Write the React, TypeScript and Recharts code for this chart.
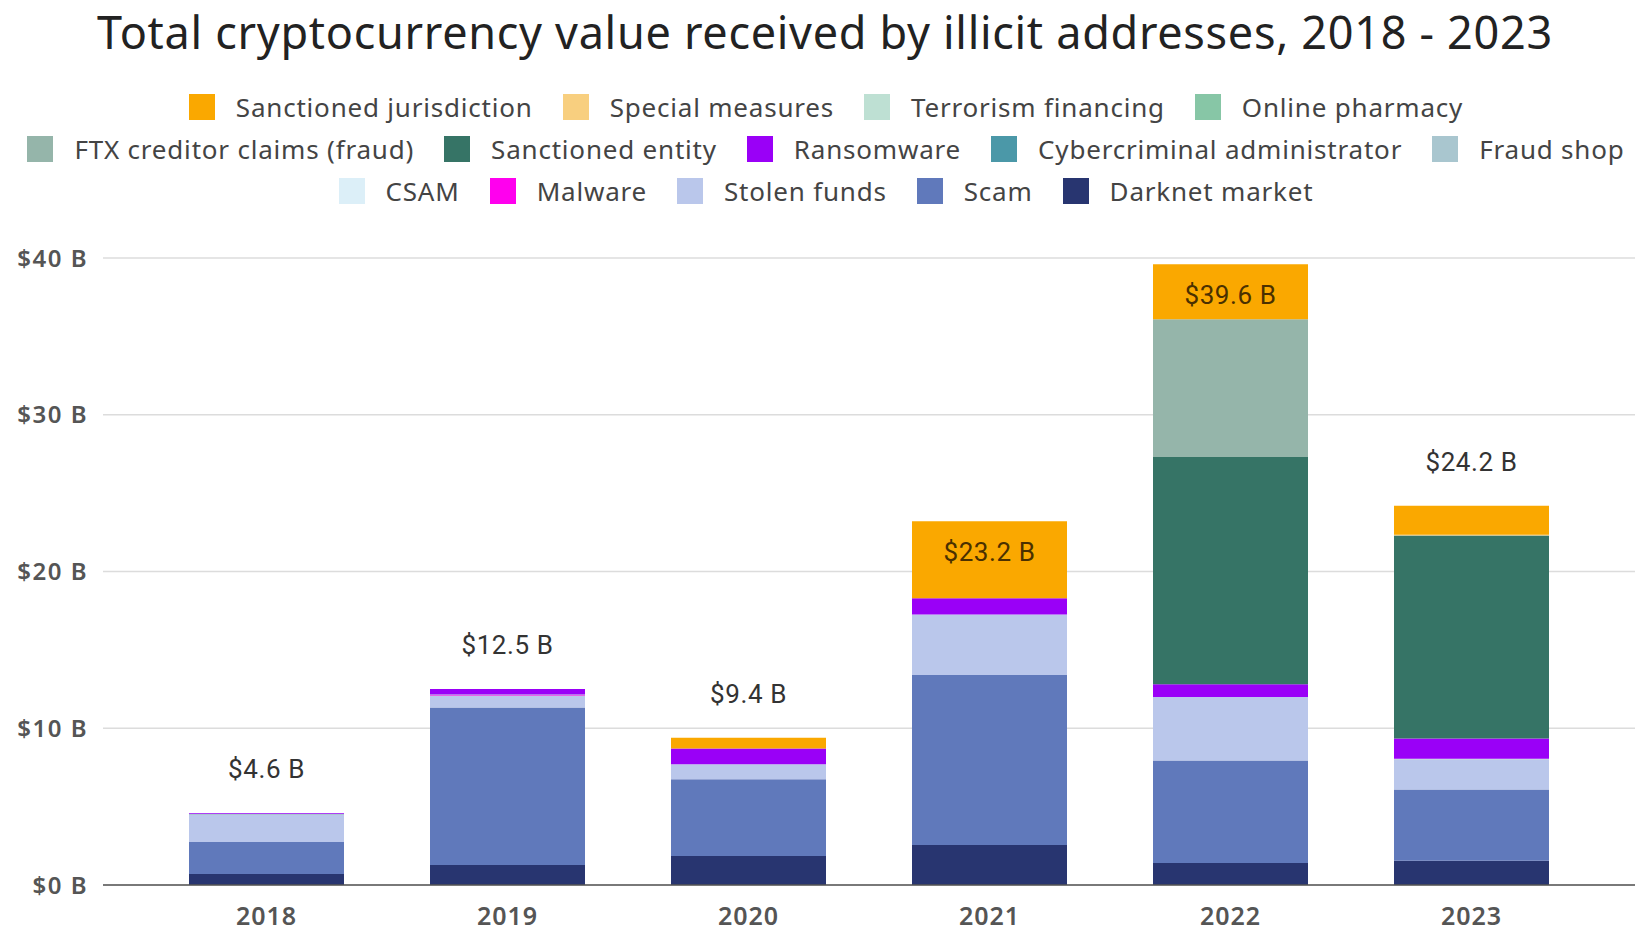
import React from "react";
import { BarChart, Bar, XAxis, YAxis, CartesianGrid, LabelList } from "recharts";

// years on the x axis
const years = ["2018", "2019", "2020", "2021", "2022", "2023"];

// values in $ billions (bottom of the stack first)
const darknetMarket = [0.7, 1.28, 1.85, 2.55, 1.4, 1.55];
const scam = [2.05, 10.05, 4.9, 10.85, 6.55, 4.55];
const stolenFunds = [1.72, 0.72, 0.96, 3.85, 4.05, 1.9];
const malware = [0, 0.05, 0, 0, 0, 0];
const csam = [0, 0, 0, 0, 0, 0];
const fraudShop = [0.08, 0.05, 0, 0, 0, 0.05];
const cybercriminalAdmin = [0, 0, 0, 0, 0, 0];
const ransomware = [0.05, 0.35, 1.0, 1.05, 0.8, 1.3];
const sanctionedEntity = [0, 0, 0, 0, 14.5, 12.95];
const ftxClaims = [0, 0, 0, 0, 8.8, 0];
const onlinePharmacy = [0, 0, 0, 0, 0, 0];
const terrorismFinancing = [0, 0, 0, 0, 0, 0];
const specialMeasures = [0, 0, 0, 0, 0, 0.05];
const sanctionedJurisdiction = [0, 0, 0.69, 4.9, 3.5, 1.85];

// totals as printed above each bar
const totals = [4.6, 12.5, 9.4, 23.2, 39.6, 24.2];

const yTicks = [0, 10, 20, 30, 40];

// stack order, bottom to top
const series = [
  { key: "darknet", name: "Darknet market", color: "#283570", values: darknetMarket },
  { key: "scam", name: "Scam", color: "#6079BB", values: scam },
  { key: "stolen", name: "Stolen funds", color: "#BAC7EB", values: stolenFunds },
  { key: "malware", name: "Malware", color: "#FF00EE", values: malware },
  { key: "csam", name: "CSAM", color: "#DCEFF8", values: csam },
  { key: "fraudShop", name: "Fraud shop", color: "#A9C6CF", values: fraudShop },
  { key: "cyberAdmin", name: "Cybercriminal administrator", color: "#4B98A8", values: cybercriminalAdmin },
  { key: "ransomware", name: "Ransomware", color: "#9A00F7", values: ransomware },
  { key: "sanctionedEntity", name: "Sanctioned entity", color: "#367466", values: sanctionedEntity },
  { key: "ftx", name: "FTX creditor claims (fraud)", color: "#95B5AA", values: ftxClaims },
  { key: "pharmacy", name: "Online pharmacy", color: "#87C6A6", values: onlinePharmacy },
  { key: "terrorism", name: "Terrorism financing", color: "#BEE0D3", values: terrorismFinancing },
  { key: "special", name: "Special measures", color: "#F8CF7F", values: specialMeasures },
  { key: "jurisdiction", name: "Sanctioned jurisdiction", color: "#FAA800", values: sanctionedJurisdiction },
];

// legend lists top of stack first, in three rows
const legendRowSizes = [4, 5, 5];

const data = years.map((year, i) => {
  const row: Record<string, any> = { year, total: totals[i] };
  series.forEach((s) => {
    row[s.key] = s.values[i];
  });
  return row;
});

const FONT = "'Noto Sans', sans-serif";

// drawn from the bottom segment (never zero): its height gives px per $B,
// which places the total at the top of the stack
const TotalLabel = (props: any) => {
  const { x, y, width, height, index } = props;
  const pxPerUnit = height / darknetMarket[index];
  const top = y + height - totals[index] * pxPerUnit;
  const inside = sanctionedJurisdiction[index] >= 3;
  const cy = inside ? top + 31 : top - 44;
  return (
    <text
      x={x + width / 2}
      y={cy}
      textAnchor="middle"
      dominantBaseline="central"
      fontFamily="Roboto, sans-serif"
      fontSize={26}
      letterSpacing={0.6}
      fill={inside ? "#4a3000" : "#333"}
    >
      {`$${totals[index].toFixed(1)} B`}
    </text>
  );
};

const Legend = () => {
  const items = [...series].reverse();
  const rows: typeof items[] = [];
  let start = 0;
  legendRowSizes.forEach((n) => {
    rows.push(items.slice(start, start + n));
    start += n;
  });
  return (
    <div style={{ position: "absolute", top: 86, left: 0, width: 1652 }}>
      {rows.map((row, r) => (
        <div
          key={r}
          style={{ display: "flex", justifyContent: "center", height: 42, alignItems: "center" }}
        >
          {row.map((s) => (
            <div key={s.key} style={{ display: "flex", alignItems: "center", margin: "0 15px" }}>
              <div style={{ width: 26, height: 26, background: s.color, marginRight: 21 }} />
              <span style={{ fontSize: 26, letterSpacing: 0.8, color: "#444", fontFamily: FONT }}>
                {s.name}
              </span>
            </div>
          ))}
        </div>
      ))}
    </div>
  );
}

export default function App() {
  return (
    <div
      style={{
        position: "absolute",
        left: 0,
        top: 0,
        width: 1641,
        height: 931,
        background: "#fff",
        fontFamily: FONT,
        overflow: "hidden",
      }}
    >
      <div
        style={{
          position: "absolute",
          top: 1,
          left: 0,
          width: 1650,
          textAlign: "center",
          fontSize: 45,
          letterSpacing: 0.7,
          color: "#222",
          whiteSpace: "nowrap",
        }}
      >
        Total cryptocurrency value received by illicit addresses, 2018 - 2023
      </div>
      <Legend />
      <div style={{ position: "absolute", left: 0, top: 0 }}>
        <BarChart
          width={1641}
          height={931}
          data={data}
          margin={{ top: 258, right: 6, bottom: 6, left: 8 }}
        >
          <CartesianGrid vertical={false} stroke="#dcdcdc" strokeWidth={1.5} />
          <XAxis
            dataKey="year"
            height={40}
            padding={{ left: 43, right: 43 }}
            tickLine={false}
            tickMargin={16}
            axisLine={{ stroke: "#555", strokeWidth: 1.5 }}
            tick={{ fontSize: 25, fill: "#555", fontWeight: 600, fontFamily: FONT, letterSpacing: 1 }}
          />
          <YAxis
            width={95}
            domain={[0, 40]}
            ticks={yTicks}
            tickFormatter={(v) => `$${v} B`}
            axisLine={false}
            tickLine={false}
            tickMargin={9}
            tick={{ fontSize: 24, fill: "#555", fontWeight: 600, fontFamily: FONT, letterSpacing: 1.5 }}
          />
          {series.map((s, i) => (
            <Bar
              key={s.key}
              dataKey={s.key}
              name={s.name}
              stackId="a"
              fill={s.color}
              barSize={155}
              isAnimationActive={false}
            >
              {i === 0 && <LabelList dataKey="total" content={TotalLabel} />}
            </Bar>
          ))}
        </BarChart>
      </div>
    </div>
  );
}
